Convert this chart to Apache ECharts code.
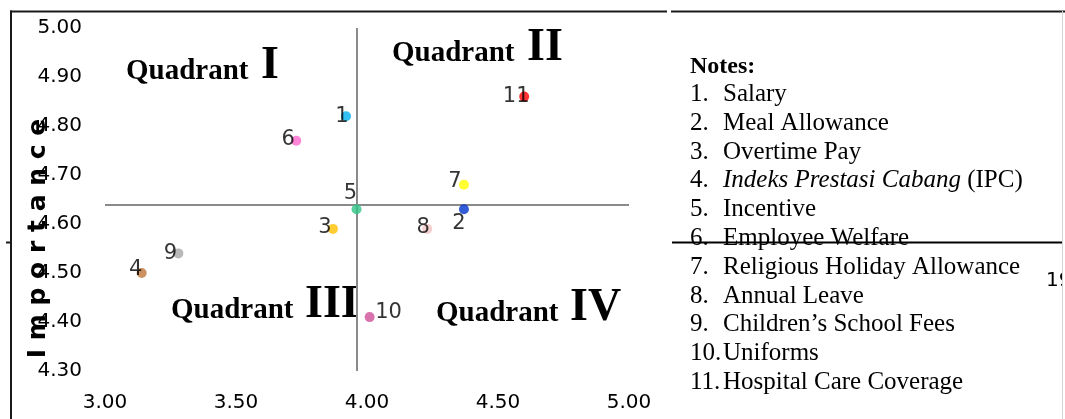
<!DOCTYPE html>
<html>
<head>
<meta charset="utf-8">
<script src="https://cdn.jsdelivr.net/npm/echarts@6/dist/echarts.min.js"></script>
<style>
html, body { margin: 0; padding: 0; background: #fff; }
#main { width: 1065px; height: 419px; }
</style>
</head>
<body>
<div id="main"></div>
<script>
// point numbers, x = satisfaction (performance), y = importance
var pointNames = ['1', '2', '3', '4', '5', '6', '7', '8', '9', '10', '11'];
var satisfaction = [3.92, 4.37, 3.87, 3.14, 3.96, 3.73, 4.37, 4.23, 3.28, 4.01, 4.60];
var importance = [4.82, 4.63, 4.59, 4.50, 4.63, 4.77, 4.68, 4.59, 4.54, 4.41, 4.86];

// averages that split the quadrants
var meanX = 3.957;
var meanY = 4.638;

var xTicks = [3.00, 3.50, 4.00, 4.50, 5.00];
var yTicks = [4.30, 4.40, 4.50, 4.60, 4.70, 4.80, 4.90, 5.00];

var quadrantNames = ['I', 'II', 'III', 'IV'];

var noteItems = [
    'Salary',
    'Meal Allowance',
    'Overtime Pay',
    '{i|Indeks Prestasi Cabang} (IPC)',
    'Incentive',
    'Employee Welfare',
    'Religious Holiday Allowance',
    'Annual Leave',
    'Children\u2019s School Fees',
    'Uniforms',
    'Hospital Care Coverage'
];

// styling
var dotColors = ['#00b0f0', '#0033cc', '#ffc000', '#c0773a', '#2ec486', '#ff66cc',
    '#ffff00', '#f2c4c4', '#a6a6a6', '#d0509a', '#ff0000'];
var labelShift = [[-4, 0], [-5, 14], [-8, -1], [-6, -3], [-6, -16], [-8, -1],
    [-9, -3], [-4, -1], [-8, 0], [19, -5], [-8, 0]];

var sans = 'DejaVu Sans';
var serif = 'Liberation Serif';

var myChart = echarts.init(document.getElementById('main'));

var points = satisfaction.map(function (x, i) {
    return {
        name: pointNames[i],
        value: [x, importance[i]],
        itemStyle: {color: dotColors[i]},
        label: {offset: labelShift[i]}
    };
});

// quadrant captions: [left, baseline]
var quadPos = [[126, 81], [392, 63], [171, 320], [436, 323]];
var numPos = [261, 527, 305, 570];

var elements = [];
quadrantNames.forEach(function (q, i) {
    elements.push({
        type: 'text', x: quadPos[i][0], y: quadPos[i][1] - 9.6,
        style: {text: 'Quadrant', fontFamily: serif, fontWeight: 'bold', fontSize: 29,
            fill: '#000', align: 'left', verticalAlign: 'middle',
            textAlign: 'left', textVerticalAlign: 'middle'}
    });
    elements.push({
        type: 'text', x: numPos[i], y: quadPos[i][1] - 15.2,
        style: {text: q, fontFamily: serif, fontWeight: 'bold', fontSize: 46,
            fill: '#000', align: 'left', verticalAlign: 'middle',
            textAlign: 'left', textVerticalAlign: 'middle'}
    });
});

// notes list
elements.push({
    type: 'text', x: 690, y: 67,
    style: {text: 'Notes:', fontFamily: serif, fontWeight: 'bold', fontSize: 24, fill: '#000',
        align: 'left', verticalAlign: 'middle', textAlign: 'left', textVerticalAlign: 'middle'}
});
noteItems.forEach(function (t, i) {
    var y = 94.5 + i * 28.8;
    elements.push({
        type: 'text', x: 690, y: y,
        style: {text: (i + 1) + '.', fontFamily: serif, fontSize: 25, fill: '#000',
            align: 'left', verticalAlign: 'middle', textAlign: 'left', textVerticalAlign: 'middle'}
    });
    elements.push({
        type: 'text', x: 723, y: y,
        style: {text: t, fontFamily: serif, fontSize: 25, fill: '#000',
            align: 'left', verticalAlign: 'middle', textAlign: 'left', textVerticalAlign: 'middle',
            rich: {i: {fontFamily: serif, fontSize: 25, fontStyle: 'italic', fill: '#000'}}}
    });
});

// page number bit at the right edge
elements.push({
    type: 'text', x: 1046, y: 281,
    style: {text: '19', fontFamily: sans, fontSize: 20, fill: '#000',
        align: 'left', verticalAlign: 'middle', textAlign: 'left', textVerticalAlign: 'middle'}
});
elements.push({type: 'rect', shape: {x: 1063, y: 0, width: 5, height: 419}, style: {fill: '#fff'}, z: 10});

// document frame lines
var frame = [
    [10, 11.5, 667, 11.5, '#1a1a1a', 2],
    [671, 11.5, 1065, 11.5, '#1a1a1a', 2],
    [11, 10.5, 11, 419, '#1a1a1a', 2],
    [6, 242.5, 11, 242.5, '#1a1a1a', 2],
    [672, 242.5, 1063, 242.5, '#000', 2],
    [1062.5, 11, 1062.5, 419, '#d4d4d4', 1]
];
frame.forEach(function (f) {
    elements.push({
        type: 'line', z: 20,
        shape: {x1: f[0], y1: f[1], x2: f[2], y2: f[3]},
        style: {stroke: f[4], lineWidth: f[5]}
    });
});

var option = {
    animation: false,
    backgroundColor: '#fff',
    grid: {left: 105, right: 436, top: 28, bottom: 48},
    xAxis: {
        type: 'value',
        min: xTicks[0], max: xTicks[xTicks.length - 1], interval: 0.5,
        axisLine: {show: false}, axisTick: {show: false}, splitLine: {show: false},
        axisLabel: {
            formatter: function (v) { return v.toFixed(2); },
            fontFamily: sans, fontSize: 20, color: '#000', margin: 22
        }
    },
    yAxis: {
        type: 'value',
        min: yTicks[0], max: yTicks[yTicks.length - 1], interval: 0.1,
        axisLine: {show: false}, axisTick: {show: false}, splitLine: {show: false},
        axisLabel: {
            formatter: function (v) { return v.toFixed(2); },
            fontFamily: sans, fontSize: 20, color: '#000', margin: 23
        },
        name: 'I m p o r t a n c e',
        nameLocation: 'middle',
        nameRotate: 90,
        nameGap: 54,
        nameMoveOverlap: false,
        nameTextStyle: {
            fontFamily: sans, fontWeight: 'bold', fontSize: 25, color: '#000',
            padding: [0, 78, 0, 0]
        }
    },
    series: [{
        type: 'scatter',
        symbolSize: 10,
        data: points,
        label: {
            show: true,
            position: 'inside',
            formatter: '{b}',
            color: '#000',
            fontFamily: sans,
            fontSize: 21
        },
        markLine: {
            silent: true,
            z: 1,
            symbol: 'none',
            label: {show: false},
            lineStyle: {color: '#8a8a8a', width: 2, type: 'solid'},
            data: [{xAxis: meanX}, {yAxis: meanY}]
        }
    }],
    graphic: {elements: elements}
};

myChart.setOption(option);
</script>
</body>
</html>
